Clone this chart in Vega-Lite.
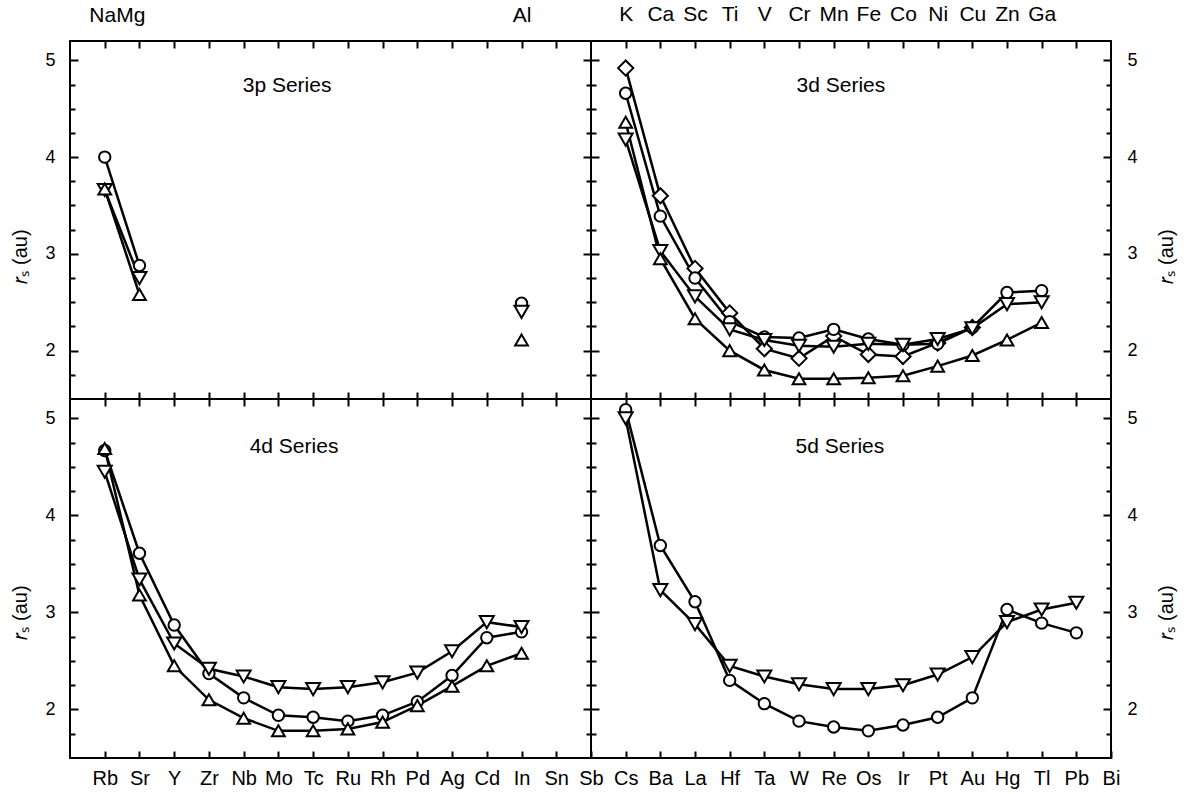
{
  "$schema": "https://vega.github.io/schema/vega-lite/v6.json",
  "background": "white",
  "padding": {"left": 9, "top": 2, "right": 10, "bottom": 10},
  "datasets": {
    "rs": [
      {"p":"3p","s":"circle","g":"a","x":1,"v":4.0},
      {"p":"3p","s":"circle","g":"a","x":2,"v":2.88},
      {"p":"3p","s":"circle","g":"b","x":13,"v":2.49},
      {"p":"3p","s":"triangle-down","g":"a","x":1,"v":3.66},
      {"p":"3p","s":"triangle-down","g":"a","x":2,"v":2.75},
      {"p":"3p","s":"triangle-down","g":"b","x":13,"v":2.40},
      {"p":"3p","s":"triangle-up","g":"a","x":1,"v":3.67},
      {"p":"3p","s":"triangle-up","g":"a","x":2,"v":2.58},
      {"p":"3p","s":"triangle-up","g":"b","x":13,"v":2.11},

      {"p":"3d","s":"diamond","g":"a","x":1,"v":4.92},
      {"p":"3d","s":"diamond","g":"a","x":2,"v":3.60},
      {"p":"3d","s":"diamond","g":"a","x":3,"v":2.85},
      {"p":"3d","s":"diamond","g":"a","x":4,"v":2.39},
      {"p":"3d","s":"diamond","g":"a","x":5,"v":2.02},
      {"p":"3d","s":"diamond","g":"a","x":6,"v":1.92},
      {"p":"3d","s":"diamond","g":"a","x":7,"v":2.15},
      {"p":"3d","s":"diamond","g":"a","x":8,"v":1.96},
      {"p":"3d","s":"diamond","g":"a","x":9,"v":1.94},
      {"p":"3d","s":"diamond","g":"a","x":10,"v":2.08},
      {"p":"3d","s":"diamond","g":"a","x":11,"v":2.24},
      {"p":"3d","s":"circle","g":"a","x":1,"v":4.66},
      {"p":"3d","s":"circle","g":"a","x":2,"v":3.39},
      {"p":"3d","s":"circle","g":"a","x":3,"v":2.75},
      {"p":"3d","s":"circle","g":"a","x":4,"v":2.30},
      {"p":"3d","s":"circle","g":"a","x":5,"v":2.14},
      {"p":"3d","s":"circle","g":"a","x":6,"v":2.13},
      {"p":"3d","s":"circle","g":"a","x":7,"v":2.22},
      {"p":"3d","s":"circle","g":"a","x":8,"v":2.12},
      {"p":"3d","s":"circle","g":"a","x":9,"v":2.06},
      {"p":"3d","s":"circle","g":"a","x":10,"v":2.07},
      {"p":"3d","s":"circle","g":"a","x":11,"v":2.24},
      {"p":"3d","s":"circle","g":"a","x":12,"v":2.60},
      {"p":"3d","s":"circle","g":"a","x":13,"v":2.62},
      {"p":"3d","s":"triangle-down","g":"a","x":1,"v":4.18},
      {"p":"3d","s":"triangle-down","g":"a","x":2,"v":3.03},
      {"p":"3d","s":"triangle-down","g":"a","x":3,"v":2.56},
      {"p":"3d","s":"triangle-down","g":"a","x":4,"v":2.22},
      {"p":"3d","s":"triangle-down","g":"a","x":5,"v":2.11},
      {"p":"3d","s":"triangle-down","g":"a","x":6,"v":2.05},
      {"p":"3d","s":"triangle-down","g":"a","x":7,"v":2.04},
      {"p":"3d","s":"triangle-down","g":"a","x":8,"v":2.07},
      {"p":"3d","s":"triangle-down","g":"a","x":9,"v":2.06},
      {"p":"3d","s":"triangle-down","g":"a","x":10,"v":2.12},
      {"p":"3d","s":"triangle-down","g":"a","x":11,"v":2.23},
      {"p":"3d","s":"triangle-down","g":"a","x":12,"v":2.48},
      {"p":"3d","s":"triangle-down","g":"a","x":13,"v":2.50},
      {"p":"3d","s":"triangle-up","g":"a","x":1,"v":4.36},
      {"p":"3d","s":"triangle-up","g":"a","x":2,"v":2.95},
      {"p":"3d","s":"triangle-up","g":"a","x":3,"v":2.33},
      {"p":"3d","s":"triangle-up","g":"a","x":4,"v":2.00},
      {"p":"3d","s":"triangle-up","g":"a","x":5,"v":1.80},
      {"p":"3d","s":"triangle-up","g":"a","x":6,"v":1.71},
      {"p":"3d","s":"triangle-up","g":"a","x":7,"v":1.71},
      {"p":"3d","s":"triangle-up","g":"a","x":8,"v":1.72},
      {"p":"3d","s":"triangle-up","g":"a","x":9,"v":1.74},
      {"p":"3d","s":"triangle-up","g":"a","x":10,"v":1.84},
      {"p":"3d","s":"triangle-up","g":"a","x":11,"v":1.95},
      {"p":"3d","s":"triangle-up","g":"a","x":12,"v":2.11},
      {"p":"3d","s":"triangle-up","g":"a","x":13,"v":2.29},

      {"p":"4d","s":"circle","g":"a","x":1,"v":4.67},
      {"p":"4d","s":"circle","g":"a","x":2,"v":3.61},
      {"p":"4d","s":"circle","g":"a","x":3,"v":2.87},
      {"p":"4d","s":"circle","g":"a","x":4,"v":2.37},
      {"p":"4d","s":"circle","g":"a","x":5,"v":2.12},
      {"p":"4d","s":"circle","g":"a","x":6,"v":1.94},
      {"p":"4d","s":"circle","g":"a","x":7,"v":1.92},
      {"p":"4d","s":"circle","g":"a","x":8,"v":1.88},
      {"p":"4d","s":"circle","g":"a","x":9,"v":1.94},
      {"p":"4d","s":"circle","g":"a","x":10,"v":2.08},
      {"p":"4d","s":"circle","g":"a","x":11,"v":2.35},
      {"p":"4d","s":"circle","g":"a","x":12,"v":2.74},
      {"p":"4d","s":"circle","g":"a","x":13,"v":2.80},
      {"p":"4d","s":"triangle-down","g":"a","x":1,"v":4.45},
      {"p":"4d","s":"triangle-down","g":"a","x":2,"v":3.34},
      {"p":"4d","s":"triangle-down","g":"a","x":3,"v":2.68},
      {"p":"4d","s":"triangle-down","g":"a","x":4,"v":2.42},
      {"p":"4d","s":"triangle-down","g":"a","x":5,"v":2.34},
      {"p":"4d","s":"triangle-down","g":"a","x":6,"v":2.23},
      {"p":"4d","s":"triangle-down","g":"a","x":7,"v":2.21},
      {"p":"4d","s":"triangle-down","g":"a","x":8,"v":2.23},
      {"p":"4d","s":"triangle-down","g":"a","x":9,"v":2.28},
      {"p":"4d","s":"triangle-down","g":"a","x":10,"v":2.38},
      {"p":"4d","s":"triangle-down","g":"a","x":11,"v":2.60},
      {"p":"4d","s":"triangle-down","g":"a","x":12,"v":2.90},
      {"p":"4d","s":"triangle-down","g":"a","x":13,"v":2.85},
      {"p":"4d","s":"triangle-up","g":"a","x":1,"v":4.69},
      {"p":"4d","s":"triangle-up","g":"a","x":2,"v":3.18},
      {"p":"4d","s":"triangle-up","g":"a","x":3,"v":2.45},
      {"p":"4d","s":"triangle-up","g":"a","x":4,"v":2.10},
      {"p":"4d","s":"triangle-up","g":"a","x":5,"v":1.91},
      {"p":"4d","s":"triangle-up","g":"a","x":6,"v":1.78},
      {"p":"4d","s":"triangle-up","g":"a","x":7,"v":1.78},
      {"p":"4d","s":"triangle-up","g":"a","x":8,"v":1.80},
      {"p":"4d","s":"triangle-up","g":"a","x":9,"v":1.87},
      {"p":"4d","s":"triangle-up","g":"a","x":10,"v":2.04},
      {"p":"4d","s":"triangle-up","g":"a","x":11,"v":2.24},
      {"p":"4d","s":"triangle-up","g":"a","x":12,"v":2.45},
      {"p":"4d","s":"triangle-up","g":"a","x":13,"v":2.58},

      {"p":"5d","s":"circle","g":"a","x":1,"v":5.09},
      {"p":"5d","s":"circle","g":"a","x":2,"v":3.69},
      {"p":"5d","s":"circle","g":"a","x":3,"v":3.11},
      {"p":"5d","s":"circle","g":"a","x":4,"v":2.30},
      {"p":"5d","s":"circle","g":"a","x":5,"v":2.06},
      {"p":"5d","s":"circle","g":"a","x":6,"v":1.88},
      {"p":"5d","s":"circle","g":"a","x":7,"v":1.82},
      {"p":"5d","s":"circle","g":"a","x":8,"v":1.78},
      {"p":"5d","s":"circle","g":"a","x":9,"v":1.84},
      {"p":"5d","s":"circle","g":"a","x":10,"v":1.92},
      {"p":"5d","s":"circle","g":"a","x":11,"v":2.12},
      {"p":"5d","s":"circle","g":"a","x":12,"v":3.03},
      {"p":"5d","s":"circle","g":"a","x":13,"v":2.89},
      {"p":"5d","s":"circle","g":"a","x":14,"v":2.79},
      {"p":"5d","s":"triangle-down","g":"a","x":1,"v":5.00},
      {"p":"5d","s":"triangle-down","g":"a","x":2,"v":3.23},
      {"p":"5d","s":"triangle-down","g":"a","x":3,"v":2.88},
      {"p":"5d","s":"triangle-down","g":"a","x":4,"v":2.45},
      {"p":"5d","s":"triangle-down","g":"a","x":5,"v":2.34},
      {"p":"5d","s":"triangle-down","g":"a","x":6,"v":2.26},
      {"p":"5d","s":"triangle-down","g":"a","x":7,"v":2.21},
      {"p":"5d","s":"triangle-down","g":"a","x":8,"v":2.21},
      {"p":"5d","s":"triangle-down","g":"a","x":9,"v":2.25},
      {"p":"5d","s":"triangle-down","g":"a","x":10,"v":2.36},
      {"p":"5d","s":"triangle-down","g":"a","x":11,"v":2.54},
      {"p":"5d","s":"triangle-down","g":"a","x":12,"v":2.90},
      {"p":"5d","s":"triangle-down","g":"a","x":13,"v":3.03},
      {"p":"5d","s":"triangle-down","g":"a","x":14,"v":3.10}
    ]
  },
  "data": {"name": "rs"},
  "columns": 2,
  "spacing": 0,
  "bounds": "flush",
  "concat": [
    {
      "width": 521, "height": 358,
      "layer": [
        {
          "transform": [{"filter": "datum.p === '3p'"}],
          "mark": {"type": "line", "stroke": "black", "strokeWidth": 2.5},
          "encoding": {
            "x": {"field": "x", "type": "quantitative", "scale": {"domain": [0, 15], "nice": false, "zero": false},
                  "axis": {"orient": "bottom", "values": [1,2,3,4,5,6,7,8,9,10,11,12,13,14], "tickSize": -7, "tickWidth": 2, "labels": false, "title": null}},
            "y": {"field": "v", "type": "quantitative", "scale": {"domain": [1.5, 5.2], "nice": false, "zero": false},
                  "axis": {"orient": "left", "values": [2,3,4,5], "format": "d", "tickSize": -8, "tickWidth": 2, "labelFontSize": 18, "labelPadding": 23,
                           "title": "𝑟ₛ (au)", "titleFontSize": 20, "titleFontWeight": "normal", "titleAngle": -90, "titleBaseline": "alphabetic", "titleAlign": "center", "titleX": -44, "titleY": 215}},
            "detail": [{"field": "s"}, {"field": "g"}]
          }
        },
        {
          "transform": [{"filter": "datum.p === '3p'"}],
          "mark": {"type": "point", "filled": true, "fill": "white", "stroke": "black", "strokeWidth": 2, "opacity": 1, "fillOpacity": 1},
          "encoding": {
            "x": {"field": "x", "type": "quantitative", "scale": {"domain": [0, 15], "nice": false, "zero": false},
                  "axis": {"orient": "top", "values": [1,2,3,4,5,6,7,8,9,10,11,12,13,14], "tickSize": -7, "tickWidth": 2, "labels": false, "title": null}},
            "y": {"field": "v", "type": "quantitative", "scale": {"domain": [1.5, 5.2], "nice": false, "zero": false},
                  "axis": {"orient": "right", "values": [2,3,4,5], "tickSize": -8, "tickWidth": 2, "labels": false, "title": null}},
            "shape": {"field": "s", "type": "nominal", "scale": {"domain": ["circle","triangle-up","triangle-down","diamond"], "range": ["circle","triangle-up","triangle-down","diamond"]}, "legend": null},
            "size": {"field": "s", "type": "nominal", "scale": {"domain": ["circle","triangle-up","triangle-down","diamond"], "range": [130, 230, 230, 150]}, "legend": null}
          }
        },
        {
          "data": {"values": [{}]},
          "mark": {"type": "text", "text": "3p Series", "font": "Liberation Sans", "fontSize": 21, "align": "center", "baseline": "middle", "color": "black"},
          "encoding": {
            "x": {"datum": 6.25, "type": "quantitative", "scale": {"domain": [0, 15], "nice": false, "zero": false},
                  "axis": {"orient": "top", "values": [1.35, 13], "ticks": false, "labelExpr": "datum.value < 5 ? 'NaMg' : 'Al'", "labelFontSize": 21, "labelPadding": 20, "labelBaseline": "alphabetic", "title": null}},
            "y": {"datum": 4.74, "type": "quantitative", "scale": {"domain": [1.5, 5.2], "nice": false, "zero": false},
                  "axis": {"orient": "left", "values": [1.75,2.25,2.5,2.75,3.25,3.5,3.75,4.25,4.5,4.75], "tickSize": -5, "tickWidth": 2, "labels": false, "title": null}}
          }
        },
        {
          "data": {"values": [{}]},
          "mark": {"type": "point", "opacity": 0},
          "encoding": {
            "x": {"datum": 1, "type": "quantitative", "scale": {"domain": [0, 15], "nice": false, "zero": false}, "axis": null},
            "y": {"datum": 2, "type": "quantitative", "scale": {"domain": [1.5, 5.2], "nice": false, "zero": false},
                  "axis": {"orient": "right", "values": [1.75,2.25,2.5,2.75,3.25,3.5,3.75,4.25,4.5,4.75], "tickSize": -5, "tickWidth": 2, "labels": false, "title": null}}
          }
        }
      ],
      "resolve": {"axis": {"x": "independent", "y": "independent"}}
    },
    {
      "width": 520, "height": 358,
      "layer": [
        {
          "transform": [{"filter": "datum.p === '3d'"}],
          "mark": {"type": "line", "stroke": "black", "strokeWidth": 2.5},
          "encoding": {
            "x": {"field": "x", "type": "quantitative", "scale": {"domain": [0, 15], "nice": false, "zero": false},
                  "axis": {"orient": "bottom", "values": [1,2,3,4,5,6,7,8,9,10,11,12,13,14], "tickSize": -7, "tickWidth": 2, "labels": false, "title": null}},
            "y": {"field": "v", "type": "quantitative", "scale": {"domain": [1.5, 5.2], "nice": false, "zero": false},
                  "axis": {"orient": "left", "values": [2,3,4,5], "tickSize": -8, "tickWidth": 2, "labels": false, "title": null}},
            "detail": [{"field": "s"}, {"field": "g"}]
          }
        },
        {
          "transform": [{"filter": "datum.p === '3d'"}],
          "mark": {"type": "point", "filled": true, "fill": "white", "stroke": "black", "strokeWidth": 2, "opacity": 1, "fillOpacity": 1},
          "encoding": {
            "x": {"field": "x", "type": "quantitative", "scale": {"domain": [0, 15], "nice": false, "zero": false},
                  "axis": {"orient": "top", "values": [1,2,3,4,5,6,7,8,9,10,11,12,13,14], "tickSize": -7, "tickWidth": 2,
                           "labelExpr": "['','K','Ca','Sc','Ti','V','Cr','Mn','Fe','Co','Ni','Cu','Zn','Ga',''][datum.value]", "labelFontSize": 21, "labelPadding": 28, "labelBaseline": "alphabetic", "title": null}},
            "y": {"field": "v", "type": "quantitative", "scale": {"domain": [1.5, 5.2], "nice": false, "zero": false},
                  "axis": {"orient": "right", "values": [2,3,4,5], "format": "d", "tickSize": -8, "tickWidth": 2, "labelFontSize": 18, "labelPadding": 24,
                           "title": "𝑟ₛ (au)", "titleFontSize": 20, "titleFontWeight": "normal", "titleAngle": -90, "titleBaseline": "alphabetic", "titleAlign": "center", "titleX": 61, "titleY": 215}},
            "shape": {"field": "s", "type": "nominal", "scale": {"domain": ["circle","triangle-up","triangle-down","diamond"], "range": ["circle","triangle-up","triangle-down","diamond"]}, "legend": null},
            "size": {"field": "s", "type": "nominal", "scale": {"domain": ["circle","triangle-up","triangle-down","diamond"], "range": [130, 230, 230, 150]}, "legend": null}
          }
        },
        {
          "data": {"values": [{}]},
          "mark": {"type": "text", "text": "3d Series", "font": "Liberation Sans", "fontSize": 21, "align": "center", "baseline": "middle", "color": "black"},
          "encoding": {
            "x": {"datum": 7.21, "type": "quantitative", "scale": {"domain": [0, 15], "nice": false, "zero": false}, "axis": null},
            "y": {"datum": 4.74, "type": "quantitative", "scale": {"domain": [1.5, 5.2], "nice": false, "zero": false},
                  "axis": {"orient": "left", "values": [1.75,2.25,2.5,2.75,3.25,3.5,3.75,4.25,4.5,4.75], "tickSize": -5, "tickWidth": 2, "labels": false, "title": null}}
          }
        },
        {
          "data": {"values": [{}]},
          "mark": {"type": "point", "opacity": 0},
          "encoding": {
            "x": {"datum": 1, "type": "quantitative", "scale": {"domain": [0, 15], "nice": false, "zero": false}, "axis": null},
            "y": {"datum": 2, "type": "quantitative", "scale": {"domain": [1.5, 5.2], "nice": false, "zero": false},
                  "axis": {"orient": "right", "values": [1.75,2.25,2.5,2.75,3.25,3.5,3.75,4.25,4.5,4.75], "tickSize": -5, "tickWidth": 2, "labels": false, "title": null}}
          }
        }
      ],
      "resolve": {"axis": {"x": "independent", "y": "independent"}}
    },
    {
      "width": 521, "height": 359,
      "layer": [
        {
          "transform": [{"filter": "datum.p === '4d'"}],
          "mark": {"type": "line", "stroke": "black", "strokeWidth": 2.5},
          "encoding": {
            "x": {"field": "x", "type": "quantitative", "scale": {"domain": [0, 15], "nice": false, "zero": false},
                  "axis": {"orient": "bottom", "values": [1,2,3,4,5,6,7,8,9,10,11,12,13,14,15], "tickSize": -7, "tickWidth": 2,
                           "labelExpr": "['','Rb','Sr','Y','Zr','Nb','Mo','Tc','Ru','Rh','Pd','Ag','Cd','In','Sn','Sb'][datum.value]", "labelFontSize": 20, "labelPadding": 33, "labelBaseline": "alphabetic", "title": null}},
            "y": {"field": "v", "type": "quantitative", "scale": {"domain": [1.5, 5.2], "nice": false, "zero": false},
                  "axis": {"orient": "left", "values": [2,3,4,5], "format": "d", "tickSize": -8, "tickWidth": 2, "labelFontSize": 18, "labelPadding": 23,
                           "title": "𝑟ₛ (au)", "titleFontSize": 20, "titleFontWeight": "normal", "titleAngle": -90, "titleBaseline": "alphabetic", "titleAlign": "center", "titleX": -44, "titleY": 213}},
            "detail": [{"field": "s"}, {"field": "g"}]
          }
        },
        {
          "transform": [{"filter": "datum.p === '4d'"}],
          "mark": {"type": "point", "filled": true, "fill": "white", "stroke": "black", "strokeWidth": 2, "opacity": 1, "fillOpacity": 1},
          "encoding": {
            "x": {"field": "x", "type": "quantitative", "scale": {"domain": [0, 15], "nice": false, "zero": false},
                  "axis": {"orient": "top", "values": [1,2,3,4,5,6,7,8,9,10,11,12,13,14], "tickSize": -7, "tickWidth": 2, "labels": false, "title": null}},
            "y": {"field": "v", "type": "quantitative", "scale": {"domain": [1.5, 5.2], "nice": false, "zero": false},
                  "axis": {"orient": "right", "values": [2,3,4,5], "tickSize": -8, "tickWidth": 2, "labels": false, "title": null}},
            "shape": {"field": "s", "type": "nominal", "scale": {"domain": ["circle","triangle-up","triangle-down","diamond"], "range": ["circle","triangle-up","triangle-down","diamond"]}, "legend": null},
            "size": {"field": "s", "type": "nominal", "scale": {"domain": ["circle","triangle-up","triangle-down","diamond"], "range": [130, 230, 230, 150]}, "legend": null}
          }
        },
        {
          "data": {"values": [{}]},
          "mark": {"type": "text", "text": "4d Series", "font": "Liberation Sans", "fontSize": 21, "align": "center", "baseline": "middle", "color": "black"},
          "encoding": {
            "x": {"datum": 6.45, "type": "quantitative", "scale": {"domain": [0, 15], "nice": false, "zero": false}, "axis": null},
            "y": {"datum": 4.71, "type": "quantitative", "scale": {"domain": [1.5, 5.2], "nice": false, "zero": false},
                  "axis": {"orient": "left", "values": [1.75,2.25,2.5,2.75,3.25,3.5,3.75,4.25,4.5,4.75], "tickSize": -5, "tickWidth": 2, "labels": false, "title": null}}
          }
        },
        {
          "data": {"values": [{}]},
          "mark": {"type": "point", "opacity": 0},
          "encoding": {
            "x": {"datum": 1, "type": "quantitative", "scale": {"domain": [0, 15], "nice": false, "zero": false}, "axis": null},
            "y": {"datum": 2, "type": "quantitative", "scale": {"domain": [1.5, 5.2], "nice": false, "zero": false},
                  "axis": {"orient": "right", "values": [1.75,2.25,2.5,2.75,3.25,3.5,3.75,4.25,4.5,4.75], "tickSize": -5, "tickWidth": 2, "labels": false, "title": null}}
          }
        }
      ],
      "resolve": {"axis": {"x": "independent", "y": "independent"}}
    },
    {
      "width": 520, "height": 359,
      "layer": [
        {
          "transform": [{"filter": "datum.p === '5d'"}],
          "mark": {"type": "line", "stroke": "black", "strokeWidth": 2.5},
          "encoding": {
            "x": {"field": "x", "type": "quantitative", "scale": {"domain": [0, 15], "nice": false, "zero": false},
                  "axis": {"orient": "bottom", "values": [1,2,3,4,5,6,7,8,9,10,11,12,13,14,15], "tickSize": -7, "tickWidth": 2,
                           "labelExpr": "['','Cs','Ba','La','Hf','Ta','W','Re','Os','Ir','Pt','Au','Hg','Tl','Pb','Bi'][datum.value]", "labelFontSize": 20, "labelPadding": 33, "labelBaseline": "alphabetic", "title": null}},
            "y": {"field": "v", "type": "quantitative", "scale": {"domain": [1.5, 5.2], "nice": false, "zero": false},
                  "axis": {"orient": "left", "values": [2,3,4,5], "tickSize": -8, "tickWidth": 2, "labels": false, "title": null}},
            "detail": [{"field": "s"}, {"field": "g"}]
          }
        },
        {
          "transform": [{"filter": "datum.p === '5d'"}],
          "mark": {"type": "point", "filled": true, "fill": "white", "stroke": "black", "strokeWidth": 2, "opacity": 1, "fillOpacity": 1},
          "encoding": {
            "x": {"field": "x", "type": "quantitative", "scale": {"domain": [0, 15], "nice": false, "zero": false},
                  "axis": {"orient": "top", "values": [1,2,3,4,5,6,7,8,9,10,11,12,13,14], "tickSize": -7, "tickWidth": 2, "labels": false, "title": null}},
            "y": {"field": "v", "type": "quantitative", "scale": {"domain": [1.5, 5.2], "nice": false, "zero": false},
                  "axis": {"orient": "right", "values": [2,3,4,5], "format": "d", "tickSize": -8, "tickWidth": 2, "labelFontSize": 18, "labelPadding": 24,
                           "title": "𝑟ₛ (au)", "titleFontSize": 20, "titleFontWeight": "normal", "titleAngle": -90, "titleBaseline": "alphabetic", "titleAlign": "center", "titleX": 61, "titleY": 213}},
            "shape": {"field": "s", "type": "nominal", "scale": {"domain": ["circle","triangle-up","triangle-down","diamond"], "range": ["circle","triangle-up","triangle-down","diamond"]}, "legend": null},
            "size": {"field": "s", "type": "nominal", "scale": {"domain": ["circle","triangle-up","triangle-down","diamond"], "range": [130, 230, 230, 150]}, "legend": null}
          }
        },
        {
          "data": {"values": [{}]},
          "mark": {"type": "text", "text": "5d Series", "font": "Liberation Sans", "fontSize": 21, "align": "center", "baseline": "middle", "color": "black"},
          "encoding": {
            "x": {"datum": 7.18, "type": "quantitative", "scale": {"domain": [0, 15], "nice": false, "zero": false}, "axis": null},
            "y": {"datum": 4.71, "type": "quantitative", "scale": {"domain": [1.5, 5.2], "nice": false, "zero": false},
                  "axis": {"orient": "left", "values": [1.75,2.25,2.5,2.75,3.25,3.5,3.75,4.25,4.5,4.75], "tickSize": -5, "tickWidth": 2, "labels": false, "title": null}}
          }
        },
        {
          "data": {"values": [{}]},
          "mark": {"type": "point", "opacity": 0},
          "encoding": {
            "x": {"datum": 1, "type": "quantitative", "scale": {"domain": [0, 15], "nice": false, "zero": false}, "axis": null},
            "y": {"datum": 2, "type": "quantitative", "scale": {"domain": [1.5, 5.2], "nice": false, "zero": false},
                  "axis": {"orient": "right", "values": [1.75,2.25,2.5,2.75,3.25,3.5,3.75,4.25,4.5,4.75], "tickSize": -5, "tickWidth": 2, "labels": false, "title": null}}
          }
        }
      ],
      "resolve": {"axis": {"x": "independent", "y": "independent"}}
    }
  ],
  "config": {
    "font": "Liberation Sans",
    "view": {"stroke": "black", "strokeWidth": 2},
    "axis": {"grid": false, "domain": false, "labelFont": "Liberation Sans", "titleFont": "Liberation Sans", "labelColor": "black", "tickColor": "black", "titleColor": "black", "labelFlush": false, "labelOverlap": false}
  }
}
